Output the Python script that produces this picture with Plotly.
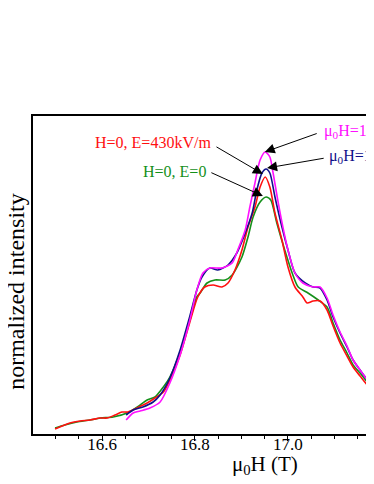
import plotly.graph_objects as go

# field values (T) and normalized intensity (a.u.)
h_green = [16.499, 16.520, 16.546, 16.574, 16.596, 16.624, 16.654, 16.682, 16.697, 16.714,
           16.732, 16.746, 16.768, 16.789, 16.804, 16.811, 16.826, 16.843, 16.865, 16.880,
           16.901, 16.914, 16.925, 16.940, 16.953, 16.963, 16.976, 16.993, 17.009, 17.022,
           17.043, 17.065, 17.084, 17.097, 17.112, 17.127, 17.140, 17.155, 17.176, 17.193]
i_green = [6, 9, 12, 14, 16, 17, 21, 29, 34, 37,
           47, 57, 82, 114, 137, 141, 151, 154, 154, 159,
           177, 197, 217, 232, 237, 234, 211, 184, 161, 147,
           141, 134, 127, 111, 94, 81, 69, 61, 49, 42]

h_red = [16.499, 16.531, 16.553, 16.574, 16.596, 16.611, 16.628, 16.643, 16.656, 16.675,
         16.697, 16.714, 16.732, 16.746, 16.768, 16.789, 16.806, 16.821, 16.839, 16.858,
         16.871, 16.886, 16.901, 16.914, 16.929, 16.940, 16.951, 16.961, 16.972, 16.987,
         17.000, 17.015, 17.032, 17.041, 17.054, 17.069, 17.084, 17.097, 17.112, 17.127,
         17.140, 17.155, 17.176, 17.193]
i_red = [5, 11, 13, 14, 16, 16, 19, 22, 22, 26,
         31, 36, 42, 54, 79, 112, 137, 147, 149, 147,
         151, 164, 184, 207, 227, 247, 257, 247, 221, 194,
         167, 147, 137, 131, 133, 133, 124, 108, 91, 78,
         67, 58, 46, 40]

h_navy = [16.652, 16.667, 16.688, 16.710, 16.725, 16.746, 16.768, 16.789, 16.804, 16.815,
          16.832, 16.849, 16.871, 16.890, 16.908, 16.923, 16.933, 16.944, 16.953, 16.961,
          16.972, 16.987, 17.000, 17.015, 17.037, 17.054, 17.069, 17.084, 17.097, 17.112,
          17.127, 17.140, 17.155, 17.176, 17.193]
i_navy = [19, 24, 27, 32, 39, 56, 84, 118, 144, 157,
          166, 164, 169, 181, 201, 221, 244, 261, 265, 261,
          237, 207, 184, 161, 151, 147, 146, 134, 117, 101,
          87, 74, 64, 51, 44]

h_mag = [16.652, 16.667, 16.682, 16.703, 16.725, 16.746, 16.768, 16.789, 16.804, 16.817,
         16.832, 16.858, 16.880, 16.892, 16.908, 16.918, 16.929, 16.940, 16.951, 16.961,
         16.968, 16.978, 16.989, 17.000, 17.015, 17.032, 17.054, 17.069, 17.084, 17.097,
         17.112, 17.127, 17.140, 17.155, 17.176, 17.193]
i_mag = [14, 21, 23, 26, 32, 51, 79, 114, 144, 161,
         166, 166, 171, 184, 204, 227, 251, 274, 282, 277,
         261, 234, 207, 184, 161, 151, 147, 147, 136, 119,
         102, 88, 74, 64, 51, 44]

GREEN = '#14901a'
RED = '#ff1010'
NAVY = '#10108a'
MAGENTA = '#ff10ff'
FONT = 'Liberation Serif'

fig = go.Figure()
for hx, iy, col in [(h_green, i_green, GREEN), (h_red, i_red, RED),
                    (h_navy, i_navy, NAVY), (h_mag, i_mag, MAGENTA)]:
    fig.add_trace(go.Scatter(x=hx, y=iy, mode='lines',
                             line=dict(color=col, width=1.6, shape='spline', smoothing=0.7),
                             hoverinfo='none'))

# labels: (text, colour, x, y, xanchor)
labels = [
    ('H=0, E=430kV/m', RED, 16.839, 292, 'right'),
    ('H=0, E=0', GREEN, 16.828, 263, 'right'),
    ('μ<sub>0</sub>H=17T, E=430kV/m', MAGENTA, 17.073, 303, 'left'),
    ('μ<sub>0</sub>H=17T, E=0', NAVY, 17.084, 278, 'left'),
]
# arrows: head (x, y), tail (ax, ay)
arrows = [
    (16.946, 260, 16.843, 288),
    (16.946, 238, 16.832, 262),
    (16.950, 282, 17.065, 301),
    (16.955, 266, 17.080, 276),
]

annos = []
for txt, col, x, y, xa in labels:
    annos.append(dict(text=txt, x=x, y=y, xref='x', yref='y', xanchor=xa,
                      yanchor='middle', showarrow=False,
                      font=dict(family=FONT, size=16, color=col)))
for x, y, ax, ay in arrows:
    annos.append(dict(text=' ', x=x, y=y, ax=ax, ay=ay, xref='x', yref='y',
                      axref='x', ayref='y', showarrow=True, arrowhead=2,
                      arrowsize=2, arrowwidth=1, arrowcolor='black',
                      standoff=0, font=dict(size=1)))

# axis titles and the clipped 17.2 tick label
annos.append(dict(text='μ<sub>0</sub>H (T)', x=16.95, y=-0.097, xref='x', yref='paper',
                  xanchor='center', yanchor='middle', showarrow=False,
                  font=dict(family=FONT, size=21, color='black')))
annos.append(dict(text='normalized intensity', x=-0.05, y=0.45, xref='paper',
                  yref='paper', textangle=-90, xanchor='center', yanchor='middle',
                  showarrow=False, font=dict(family=FONT, size=24, color='black')))
annos.append(dict(text='17.2', x=1.0205, y=-0.034, xref='paper', yref='paper',
                  xanchor='center', yanchor='middle', showarrow=False,
                  font=dict(family=FONT, size=17, color='black')))

# the page body adds an 8 px margin, so the figure is 8 px smaller each way
fig.update_layout(
    width=366, height=476,
    margin=dict(l=25, r=0, t=108, b=50),
    paper_bgcolor='white', plot_bgcolor='white',
    showlegend=False,
    annotations=annos,
    xaxis=dict(range=[16.4516, 17.185], showgrid=False, zeroline=False,
               showline=True, linecolor='black', linewidth=1.6, mirror=True,
               ticks='outside', ticklen=5, tickwidth=1, tickcolor='black',
               tick0=16.0, dtick=0.2, tickformat='.1f', ticklabelstandoff=-11,
               tickfont=dict(family=FONT, size=17, color='black'),
               minor=dict(ticks='outside', ticklen=3.5, tickwidth=1,
                          tickcolor='black', dtick=0.05, showgrid=False)),
    yaxis=dict(range=[0, 318], showgrid=False, zeroline=False,
               showline=True, linecolor='black', linewidth=1.6, mirror=False,
               ticks='', showticklabels=False),
)

fig.write_html("out.html")
